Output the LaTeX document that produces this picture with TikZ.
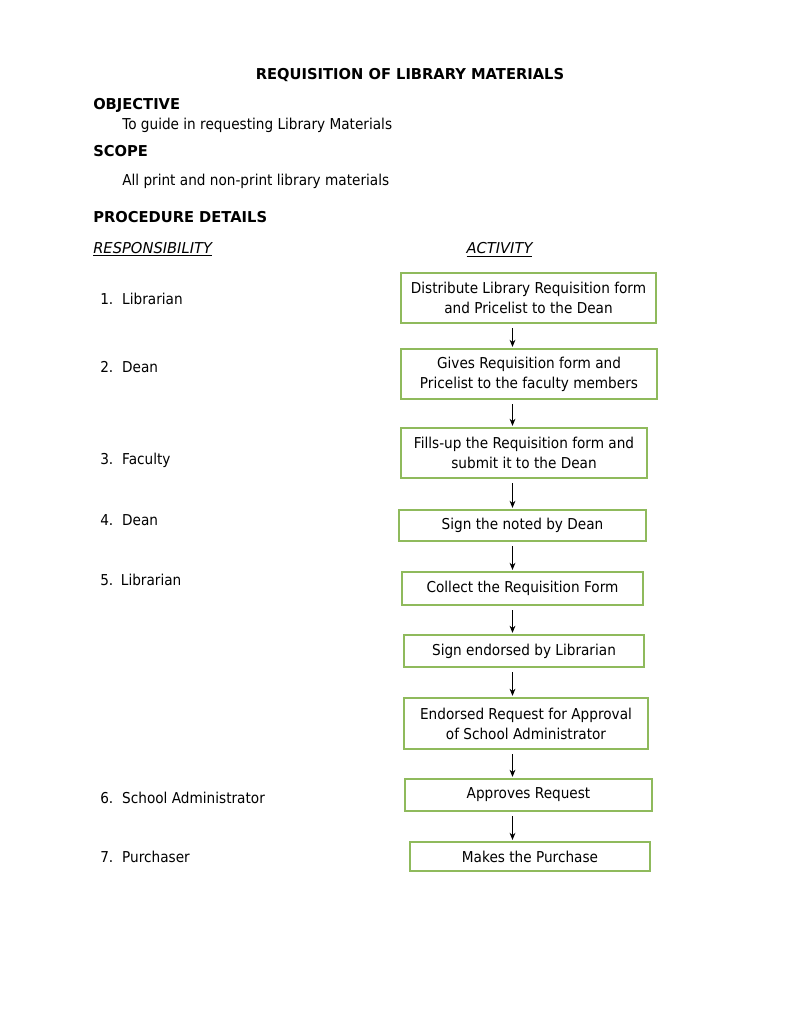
\documentclass[tikz,border=0pt]{standalone}
\usepackage{fontspec}
\setmainfont[FakeStretch=0.91]{DejaVu Sans}
\newfontfamily\capfont[FakeStretch=0.98]{DejaVu Sans}
\usetikzlibrary{arrows.meta}
\definecolor{boxgreen}{RGB}{143,186,92}

\begin{document}
\begin{tikzpicture}[x=0.7737pt, y=-0.7737pt,
    every node/.style={inner sep=0pt, font=\fontsize{11.6}{15.5}\selectfont},
    act/.style={draw=boxgreen, line width=1.3pt, align=center},
    resp/.style={anchor=mid west, yshift=-1.4pt},
    head/.style={anchor=mid west, yshift=-1.4pt, font=\fontsize{11.6}{15.5}\selectfont\capfont\bfseries},
    arr/.style={->, >={Stealth[length=5.5pt,width=4.5pt]}, line width=0.6pt}]
  \useasboundingbox (0,0) rectangle (791,1024);

  % heading
  \node[yshift=-1.4pt] (title) at (410,73) {\capfont\bfseries REQUISITION OF LIBRARY MATERIALS};
  \node[head] (obj) at (93,104) {OBJECTIVE};
  \node[resp] (objtxt) at (122,124) {To guide in requesting Library Materials};
  \node[head] (scope) at (93,151) {SCOPE};
  \node[resp] (scopetxt) at (122,180) {All print and non-print library materials};
  \node[head] (proc) at (93,217) {PROCEDURE DETAILS};
  \node[resp] (rhead) at (93,248) {\capfont\underline{\itshape RESPONSIBILITY}};
  \node[yshift=-1.4pt] (ahead) at (499.5,248) {\capfont\underline{\itshape ACTIVITY}};

  % responsibility column
  \node[resp] (r1) at (100,299) {\makebox[17pt][l]{1.}Librarian};
  \node[resp] (r2) at (100,367) {\makebox[17pt][l]{2.}Dean};
  \node[resp] (r3) at (100,459) {\makebox[17pt][l]{3.}Faculty};
  \node[resp] (r4) at (100,520) {\makebox[17pt][l]{4.}Dean};
  \node[resp] (r5) at (100,580) {\makebox[16pt][l]{5.}Librarian};
  \node[resp] (r6) at (100,798) {\makebox[17pt][l]{6.}School Administrator};
  \node[resp] (r7) at (100,857) {\makebox[17pt][l]{7.}Purchaser};

  % activity boxes
  \node[act, minimum width=197.3pt, minimum height=38.7pt] (b1) at (528.5,298)
    {Distribute Library Requisition form\\and Pricelist to the Dean};
  \node[act, minimum width=198.1pt, minimum height=38.7pt] (b2) at (529,374)
    {Gives Requisition form and\\Pricelist to the faculty members};
  \node[act, minimum width=190.3pt, minimum height=38.7pt] (b3) at (524,453)
    {Fills-up the Requisition form and\\submit it to the Dean};
  \node[act, minimum width=191.1pt, minimum height=24pt] (b4) at (522.5,525.5)
    {Sign the noted by Dean};
  \node[act, minimum width=186.5pt, minimum height=25.5pt] (b5) at (522.5,588.5)
    {Collect the Requisition Form};
  \node[act, minimum width=185.7pt, minimum height=24.8pt] (b6) at (524,651)
    {Sign endorsed by Librarian};
  \node[act, minimum width=188.8pt, minimum height=39.5pt] (b7) at (526,723.5)
    {Endorsed Request for Approval\\of School Administrator};
  \node[act, minimum width=191.1pt, minimum height=24.8pt] (b8) at (528.5,795)
    {Approves Request};
  \node[act, minimum width=185.7pt, minimum height=22.4pt] (b9) at (530,856.5)
    {Makes the Purchase};

  % arrows
  \coordinate (ax) at (512.5,0);
  \foreach \a/\b in {b1/b2, b2/b3, b3/b4, b4/b5, b5/b6, b6/b7, b7/b8, b8/b9}
    \draw[arr] ([yshift=-3.5pt]\a.south -| ax) -- ([yshift=1pt]\b.north -| ax);
\end{tikzpicture}
\end{document}
